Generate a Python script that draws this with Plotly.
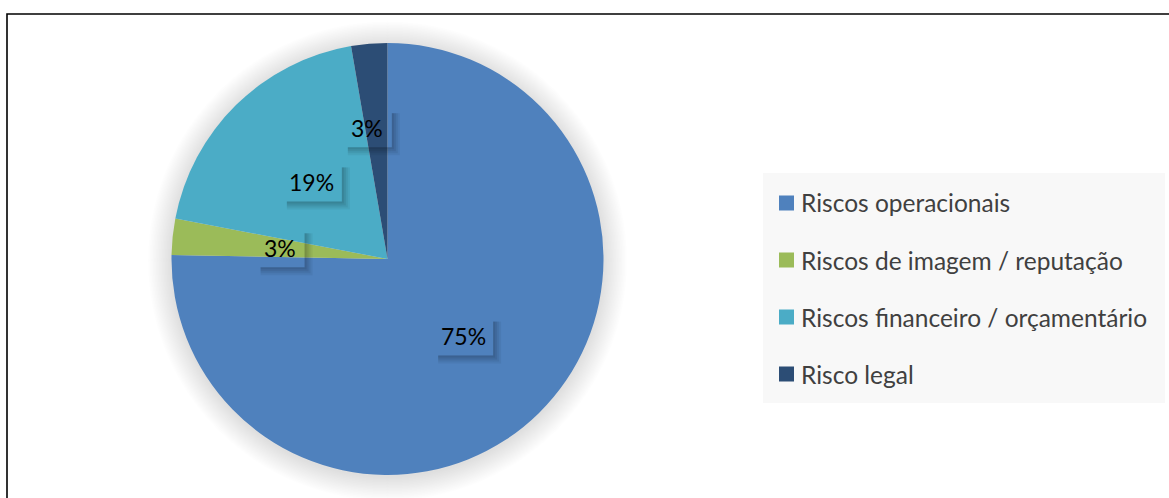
import math
import plotly.graph_objects as go

# ---- data ----
labels = ["Riscos operacionais", "Riscos de imagem / reputação",
          "Riscos financeiro / orçamentário", "Risco legal"]
values = [75.3, 2.7, 19.3, 2.7]
colors = ["#4F81BD", "#9BBB59", "#4BACC6", "#2C4D75"]

# ---- style / layout ----
W, H = 1169, 498
CX, CY, R = 387.5, 259, 216          # pie centre / radius in pixels (from top)
label_rf = [0.50, 0.50, 0.50, 0.61]  # radial position of labels (fraction of R)
label_xshift = [0, 0, 0, -9]
LBL_FONT = dict(family="Lato, Calibri, sans-serif", size=23, color="#000000")
LEG_FONT = dict(family="Lato, Calibri, sans-serif", size=24.5, color="#404040")

def px(x):
    return x / W

def py(y_top):
    return 1 - y_top / H

fig = go.Figure()
fig.add_trace(go.Pie(
    labels=labels, values=values, sort=False, direction="clockwise", rotation=0,
    marker=dict(colors=colors, line=dict(width=0)),
    textinfo="none", hoverinfo="label+percent", showlegend=False,
    domain=dict(x=[px(CX - R), px(CX + R)], y=[py(CY + R), py(CY - R)]),
))

shapes = []
# outer frame
shapes.append(dict(type="rect", xref="paper", yref="paper",
                   x0=px(7), x1=1.02, y0=-0.05, y1=py(14),
                   line=dict(color="#000000", width=1.6), layer="below"))
# soft glow / shadow behind the pie
for k in range(16):
    rr = R + 1 + k * 1.5
    shapes.append(dict(type="circle", xref="paper", yref="paper",
                       xsizemode="pixel", ysizemode="pixel",
                       xanchor=px(CX), yanchor=py(CY + 2),
                       x0=-rr, x1=rr, y0=-rr, y1=rr,
                       fillcolor="rgba(0,0,0,0.009)", line=dict(width=0),
                       layer="below"))

annotations = []
total = sum(values)
cum = 0.0
for i, v in enumerate(values):
    theta = 2 * math.pi * (cum + v / 2) / total
    cum += v
    r = R * label_rf[i]
    lx = CX + r * math.sin(theta) + label_xshift[i]
    ly = CY - r * math.cos(theta)
    txt = f"{round(100 * v / total)}%"
    w = 27 + 11 * len(txt)
    h = 39
    # soft drop shadow (right and bottom strips)
    for off, a in ((8, 0.05), (6, 0.06), (4, 0.07), (2, 0.07)):
        shapes.append(dict(type="rect", xref="paper", yref="paper",
                           xsizemode="pixel", ysizemode="pixel",
                           xanchor=px(lx), yanchor=py(ly),
                           x0=w / 2, x1=w / 2 + off, y0=-h / 2 - off, y1=h / 2 - 5,
                           fillcolor=f"rgba(0,0,0,{a})", line=dict(width=0),
                           layer="above"))
        shapes.append(dict(type="rect", xref="paper", yref="paper",
                           xsizemode="pixel", ysizemode="pixel",
                           xanchor=px(lx), yanchor=py(ly),
                           x0=-w / 2 + 5, x1=w / 2, y0=-h / 2 - off, y1=-h / 2,
                           fillcolor=f"rgba(0,0,0,{a})", line=dict(width=0),
                           layer="above"))
    annotations.append(dict(x=px(lx), y=py(ly), xref="paper", yref="paper",
                            text=txt, showarrow=False, font=LBL_FONT,
                            xanchor="center", yanchor="middle"))

# manual legend
shapes.append(dict(type="rect", xref="paper", yref="paper",
                   x0=px(763), x1=px(1165), y0=py(403), y1=py(173),
                   fillcolor="#F8F8F8", line=dict(width=0), layer="below"))
for i, (lab, col) in enumerate(zip(labels, colors)):
    yc = 203 + 57 * i
    shapes.append(dict(type="rect", xref="paper", yref="paper",
                       x0=px(779), x1=px(794), y0=py(yc + 7.5), y1=py(yc - 7.5),
                       fillcolor=col, line=dict(width=0), layer="below"))
    annotations.append(dict(x=px(799), y=py(yc), xref="paper", yref="paper",
                            text=lab, showarrow=False, font=LEG_FONT,
                            xanchor="left", yanchor="middle"))

fig.update_layout(
    width=W, height=H, margin=dict(l=0, r=0, t=0, b=0),
    paper_bgcolor="#FFFFFF", plot_bgcolor="#FFFFFF",
    shapes=shapes, annotations=annotations, showlegend=False,
)
fig.write_html("out.html", config={"displayModeBar": False},
               post_script="document.body.style.margin='0';document.body.style.overflow='hidden';")
